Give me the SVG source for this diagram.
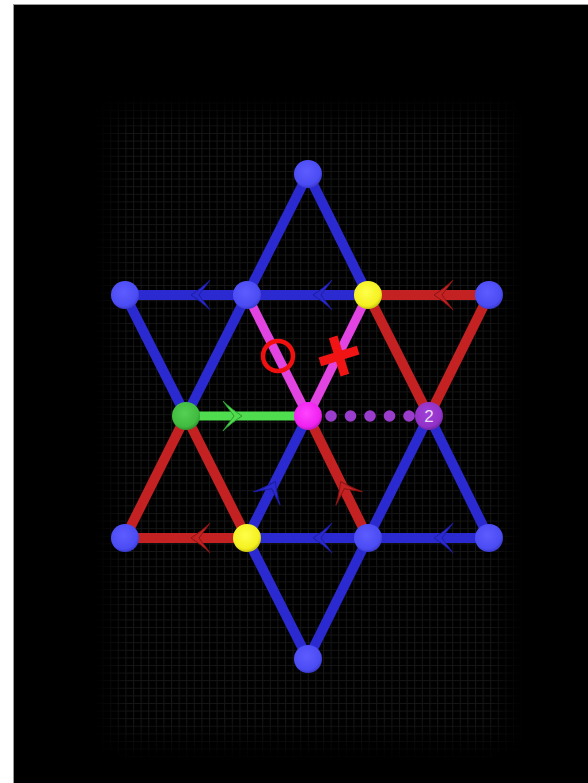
<svg xmlns="http://www.w3.org/2000/svg" width="588" height="783" viewBox="0 0 588 783">
<style>
.e{fill:none;stroke-width:10;stroke-linecap:butt}
.b{stroke:#2a2ad0}
.r{stroke:#c42222}
.m{stroke:#e244e2;stroke-width:9}
.g{stroke:#4fdc4f;stroke-width:9}
.ab{fill:#2a2ad0;stroke:#1c1ca0;stroke-width:1}
.ar{fill:#c42222;stroke:#8a1414;stroke-width:1}
.ag{fill:#4fdc4f;stroke:#2f9a2f;stroke-width:1}
.dot{fill:#9a3ccc}
.lbl{font-family:"Liberation Sans","DejaVu Sans",sans-serif;font-size:17px;fill:#eadcf5;text-anchor:middle}
</style>
<defs>
<pattern id="grid" width="7.6" height="7.6" patternUnits="userSpaceOnUse" x="95" y="95">
<path d="M0,0.5 H7.6 M0.5,0 V7.6" stroke="#161616" stroke-width="1" fill="none"/>
</pattern>
<linearGradient id="fx" x1="0" y1="0" x2="1" y2="0">
<stop offset="0" stop-color="#fff" stop-opacity="0"/>
<stop offset="0.08" stop-color="#fff" stop-opacity="1"/>
<stop offset="0.92" stop-color="#fff" stop-opacity="1"/>
<stop offset="1" stop-color="#fff" stop-opacity="0"/>
</linearGradient>
<linearGradient id="fy" x1="0" y1="0" x2="0" y2="1">
<stop offset="0" stop-color="#fff" stop-opacity="0"/>
<stop offset="0.06" stop-color="#fff" stop-opacity="1"/>
<stop offset="0.94" stop-color="#fff" stop-opacity="1"/>
<stop offset="1" stop-color="#fff" stop-opacity="0"/>
</linearGradient>
<mask id="gm"><rect x="95" y="95" width="428" height="665" fill="url(#fx)"/></mask>
<mask id="gmy"><rect x="95" y="95" width="428" height="665" fill="url(#fy)"/></mask>
<radialGradient id="nb" cx="0.45" cy="0.4" r="0.6">
<stop offset="0" stop-color="#5c5cff"/><stop offset="0.8" stop-color="#4c4cf4"/><stop offset="1" stop-color="#3a3ad0"/>
</radialGradient>
<radialGradient id="ny" cx="0.45" cy="0.4" r="0.6">
<stop offset="0" stop-color="#ffff4a"/><stop offset="0.8" stop-color="#f4f020"/><stop offset="1" stop-color="#c8c410"/>
</radialGradient>
<radialGradient id="ng" cx="0.45" cy="0.4" r="0.6">
<stop offset="0" stop-color="#55d055"/><stop offset="0.8" stop-color="#40bb40"/><stop offset="1" stop-color="#2e952e"/>
</radialGradient>
<radialGradient id="nm" cx="0.45" cy="0.4" r="0.6">
<stop offset="0" stop-color="#ff44ff"/><stop offset="0.8" stop-color="#f022f0"/><stop offset="1" stop-color="#c018c0"/>
</radialGradient>
<radialGradient id="np" cx="0.45" cy="0.4" r="0.6">
<stop offset="0" stop-color="#a040d8"/><stop offset="0.8" stop-color="#9232c8"/><stop offset="1" stop-color="#7424a4"/>
</radialGradient>
<path id="chev" d="M0,0 C6,-4 13,-9 19,-15 C15,-9 11,-4.5 8,0 C11,4.5 15,9 19,15 C13,9 6,4 0,0Z"/>
</defs>

<rect width="588" height="783" fill="#fff"/>
<rect x="14" y="4" width="574" height="779" fill="#000"/>
<path d="M14,4.5 H588 M13.5,4 V783" stroke="#999" stroke-width="1"/>
<g mask="url(#gmy)"><rect x="95" y="95" width="428" height="665" fill="url(#grid)" mask="url(#gm)"/></g>

<g id="connectors">
<line class="e b" x1="308" y1="174" x2="247" y2="295"/>
<line class="e b" x1="247" y1="295" x2="186" y2="416"/>
<line class="e r" x1="186" y1="416" x2="125" y2="538"/>
<line class="e b" x1="308" y1="174" x2="368" y2="295"/>
<line class="e r" x1="368" y1="295" x2="429" y2="416"/>
<line class="e b" x1="429" y1="416" x2="489" y2="538"/>
<line class="e r" x1="125" y1="538" x2="247" y2="538"/>
<line class="e b" x1="247" y1="538" x2="368" y2="538"/>
<line class="e b" x1="368" y1="538" x2="489" y2="538"/>
<line class="e b" x1="125" y1="295" x2="247" y2="295"/>
<line class="e b" x1="247" y1="295" x2="368" y2="295"/>
<line class="e r" x1="368" y1="295" x2="489" y2="295"/>
<line class="e b" x1="125" y1="295" x2="186" y2="416"/>
<line class="e r" x1="186" y1="416" x2="247" y2="538"/>
<line class="e b" x1="247" y1="538" x2="308" y2="659"/>
<line class="e r" x1="489" y1="295" x2="429" y2="416"/>
<line class="e b" x1="429" y1="416" x2="368" y2="538"/>
<line class="e b" x1="368" y1="538" x2="308" y2="659"/>
<line class="e b" x1="308" y1="416" x2="247" y2="538"/>
<line class="e r" x1="308" y1="416" x2="368" y2="538"/>
<line class="e m" x1="247" y1="295" x2="308" y2="416"/>
<line class="e m" x1="368" y1="295" x2="308" y2="416"/>
<line class="e g" x1="186" y1="416" x2="308" y2="416"/>
<use href="#chev" class="ab" transform="translate(191,295)"/>
<use href="#chev" class="ab" transform="translate(313,295)"/>
<use href="#chev" class="ar" transform="translate(434,295)"/>
<use href="#chev" class="ar" transform="translate(191,538)"/>
<use href="#chev" class="ab" transform="translate(313,538)"/>
<use href="#chev" class="ab" transform="translate(434,538)"/>
<use href="#chev" class="ag" transform="translate(242,416) rotate(180)"/>
<use href="#chev" class="ab" transform="translate(275.3,481.5) rotate(116.6)"/>
<use href="#chev" class="ar" transform="translate(340.7,481.5) rotate(63.4)"/>
<g id="dots">
<circle class="dot" cx="331" cy="416" r="5.8"/>
<circle class="dot" cx="350.5" cy="416" r="5.8"/>
<circle class="dot" cx="370" cy="416" r="5.8"/>
<circle class="dot" cx="389.5" cy="416" r="5.8"/>
<circle class="dot" cx="409" cy="416" r="5.8"/>
</g>
</g>

<g id="marks">
<circle cx="278" cy="356" r="15" fill="none" stroke="#f01010" stroke-width="4.5"/>
<g transform="translate(339,356) rotate(-17)" fill="#f01414">
<rect x="-20" y="-4.5" width="40" height="9"/>
<rect x="-4.5" y="-20" width="9" height="40"/>
</g>
</g>

<g id="nodes">
<g id="n-top"><circle cx="308" cy="174" r="14" fill="url(#nb)"/></g>
<g id="n-ul"><circle cx="125" cy="295" r="14" fill="url(#nb)"/></g>
<g id="n-u2"><circle cx="247" cy="295" r="14" fill="url(#nb)"/></g>
<g id="n-u3"><circle cx="368" cy="295" r="14" fill="url(#ny)"/></g>
<g id="n-ur"><circle cx="489" cy="295" r="14" fill="url(#nb)"/></g>
<g id="n-ml"><circle cx="186" cy="416" r="14" fill="url(#ng)"/></g>
<g id="n-mc"><circle cx="308" cy="416" r="14" fill="url(#nm)"/></g>
<g id="n-mr"><circle cx="429" cy="416" r="14" fill="url(#np)"/><text class="lbl" x="429" y="422">2</text></g>
<g id="n-ll"><circle cx="125" cy="538" r="14" fill="url(#nb)"/></g>
<g id="n-l2"><circle cx="247" cy="538" r="14" fill="url(#ny)"/></g>
<g id="n-l3"><circle cx="368" cy="538" r="14" fill="url(#nb)"/></g>
<g id="n-lr"><circle cx="489" cy="538" r="14" fill="url(#nb)"/></g>
<g id="n-bot"><circle cx="308" cy="659" r="14" fill="url(#nb)"/></g>
</g>
</svg>
